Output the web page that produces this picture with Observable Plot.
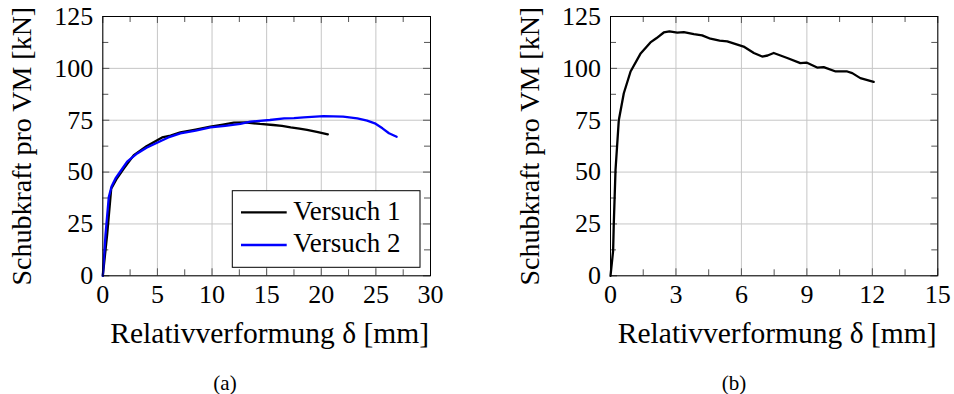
<!DOCTYPE html>
<html><head><meta charset="utf-8">
<script src="https://cdn.jsdelivr.net/npm/d3@7"></script>
<script src="https://cdn.jsdelivr.net/npm/@observablehq/plot@0.6"></script>
<style>
body{margin:0;background:#fff;}
#wrap{position:relative;width:954px;height:394px;overflow:hidden;font-family:'Liberation Serif',serif;color:#000;}
.panel{position:absolute;top:0;}
.cap{position:absolute;top:373px;width:100px;margin-left:-50px;text-align:center;font-size:21px;line-height:21px;}
</style></head><body>
<div id="wrap">
  <div id="pa" class="panel" style="left:0"></div>
  <div id="pb" class="panel" style="left:477px"></div>
  <div class="cap" id="capA" style="left:225px"></div>
  <div class="cap" id="capB" style="left:734px"></div>
</div>
<script>
// ---- data ----
const versuch1 = [[0,0],[0.4,20],[0.77,42],[1.3,47],[1.92,51.7],[2.84,58.2],[4,62.5],[4.98,65.4],[5.43,66.7],[6.2,67.6],[7.1,69.1],[8.5,70.5],[9.85,71.9],[11,72.9],[12,73.8],[13.2,73.9],[14.4,73.2],[15.6,72.7],[16.4,72.3],[17.2,71.6],[18,71],[18.7,70.3],[19.7,69.3],[20.6,68.2]];
const versuch2 = [[0,0],[0.25,20],[0.55,38],[0.8,43],[1.16,46.9],[1.7,51],[2.23,55],[3.15,59],[4,61.7],[4.97,64.1],[6,66.7],[7.1,68.7],[8.5,70],[9.85,71.5],[11.2,72.3],[12.6,73.2],[13.5,74.3],[15.3,75.1],[16.6,75.9],[17.5,76],[18.4,76.4],[20.2,77],[22,76.7],[23.3,75.9],[24.2,74.8],[24.9,73.5],[25.6,71.1],[26.2,68.7],[26.9,67]];
const versuchB = [[0,0],[0.12,12],[0.15,25],[0.23,51],[0.38,75],[0.61,88],[0.92,98.5],[1.37,107],[1.83,112.5],[2.1,114.5],[2.44,117.3],[2.7,117.8],[3.06,117.2],[3.36,117.5],[3.82,116.5],[4.2,115.9],[4.58,114.3],[5.0,113.4],[5.35,113],[6.1,110.5],[6.57,107.4],[6.95,105.7],[7.2,106.2],[7.48,107.4],[8.1,105],[8.7,102.5],[8.98,102.8],[9.47,100.4],[9.77,100.6],[10.32,98.5],[10.85,98.5],[11.08,97.7],[11.45,95.3],[12.06,93.5]];

const seriesLabels = ["Versuch 1", "Versuch 2"];
const seriesColors = ["#000000", "#0000ff"];
const xTicksA = [0,5,10,15,20,25,30];
const xMinorA = [2.5,7.5,12.5,17.5,22.5,27.5];
const xTicksB = [0,3,6,9,12,15];
const xMinorB = [1.5,4.5,7.5,10.5,13.5];
const yTicks = [0,25,50,75,100,125];
const yMinor = [12.5,37.5,62.5,87.5,112.5];
const xTitle = "Relativverformung δ [mm]";
const yTitle = "Schubkraft pro VM [kN]";
const captions = ["(a)", "(b)"];

const W = 477, H = 360, MT = 16, MB = H - 275.3;
const FONT = "'Liberation Serif', 'Times New Roman', serif";

function panel({series, xDomain, xMajor, xMinor, marginLeft, marginRight}) {
  const plotW = W - marginLeft - marginRight, plotH = H - MT - MB;
  const gridStyle = {stroke: "#c6c6c6", strokeOpacity: 1, strokeWidth: 1};
  const tickStyle = {stroke: "#555", strokeWidth: 1};
  const majLen = 7, minLen = 6;
  return Plot.plot({
    width: W, height: H,
    marginLeft, marginRight, marginTop: MT, marginBottom: MB,
    style: {fontFamily: FONT, background: "transparent", overflow: "visible", color: "#000"},
    x: {domain: xDomain},
    y: {domain: [0, 125]},
    marks: [
      Plot.gridX(xMajor, gridStyle),
      Plot.gridY(yTicks, gridStyle),
      Plot.tickX(xMajor, {x: d => d, insetTop: plotH - majLen, ...tickStyle}),
      Plot.tickX(xMajor, {x: d => d, insetBottom: plotH - majLen, ...tickStyle}),
      Plot.tickX(xMinor, {x: d => d, insetTop: plotH - minLen, ...tickStyle}),
      Plot.tickX(xMinor, {x: d => d, insetBottom: plotH - minLen, ...tickStyle}),
      Plot.tickY(yTicks, {y: d => d, insetRight: plotW - majLen, ...tickStyle}),
      Plot.tickY(yTicks, {y: d => d, insetLeft: plotW - majLen, ...tickStyle}),
      Plot.tickY(yMinor, {y: d => d, insetRight: plotW - minLen, ...tickStyle}),
      Plot.tickY(yMinor, {y: d => d, insetLeft: plotW - minLen, ...tickStyle}),
      ...series.map(s => Plot.line(s.data, {x: d => d[0], y: d => d[1], stroke: s.color, strokeWidth: 2.3})),
      Plot.frame({stroke: "#000", strokeWidth: 1}),
      Plot.axisX(xMajor, {tickSize: 0, tickPadding: 9, fontSize: 26, label: null}),
      Plot.axisY(yTicks, {tickSize: 0, tickPadding: 9.5, fontSize: 26, label: null}),
      Plot.text([xTitle], {text: d => d, frameAnchor: "bottom", textAnchor: "middle", dy: 57.4, dx: 3, fontSize: 29.5, lineAnchor: "middle"}),
      Plot.text([yTitle], {text: d => d, frameAnchor: "left", textAnchor: "middle", rotate: -90, dx: -80.3, fontSize: 28, lineAnchor: "middle"})
    ]
  });
}

const figA = panel({
  series: [{data: versuch1, color: seriesColors[0]}, {data: versuch2, color: seriesColors[1]}],
  xDomain: [0, 30], xMajor: xTicksA, xMinor: xMinorA, marginLeft: 102.3, marginRight: W - 430
});
const figB = panel({
  series: [{data: versuchB, color: seriesColors[0]}],
  xDomain: [0, 15], xMajor: xTicksB, xMinor: xMinorB, marginLeft: 610 - 477, marginRight: 954 - 937.3
});

// legend inside panel (a)
{
  const g = d3.select(figA).append("g")
    .attr("font-family", FONT).attr("font-size", 27).attr("text-anchor", "start");
  g.append("rect").attr("x", 232.3).attr("y", 190.7).attr("width", 420 - 232.3).attr("height", 267.3 - 190.7)
    .attr("fill", "#fff").attr("stroke", "#000").attr("stroke-width", 1);
  seriesLabels.forEach((lab, i) => {
    const yy = 212.3 + i * 32.7;
    g.append("line").attr("x1", 241).attr("x2", 286.7).attr("y1", yy).attr("y2", yy)
      .attr("stroke", seriesColors[i]).attr("stroke-width", 2.3);
    g.append("text").attr("x", 293.3).attr("y", yy + 7.2).attr("fill", "#000")
      .attr("text-anchor", "start").text(lab);
  });
}

document.getElementById("pa").appendChild(figA);
document.getElementById("pb").appendChild(figB);
document.getElementById("capA").textContent = captions[0];
document.getElementById("capB").textContent = captions[1];
</script>
</body></html>
